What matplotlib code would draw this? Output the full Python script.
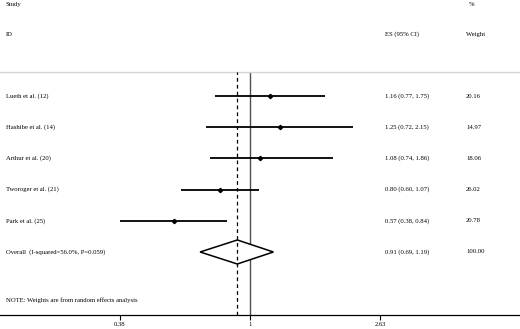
import numpy as np
import matplotlib as mpl
import matplotlib.pyplot as plt
import matplotlib.transforms as mtransforms

mpl.rcParams.update({
    "font.family": ["Liberation Serif", "DejaVu Serif"],
    "font.size": 4.8,
})

studies = ["Lueth et al. (12)", "Hashibe et al. (14)", "Arthur et al. (20)",
           "Tworoger et al. (21)", "Park et al. (25)"]
es = [1.16, 1.25, 1.08, 0.80, 0.57]
lo = [0.77, 0.72, 0.74, 0.60, 0.38]
hi = [1.75, 2.15, 1.86, 1.07, 0.84]
weights = [20.16, 14.97, 18.06, 26.02, 20.78]
overall_es, overall_lo, overall_hi = 0.91, 0.69, 1.19
overall_weight = 100.00
overall_label = "Overall  (I-squared=56.0%, P=0.059)"
xticks = [0.38, 1, 2.63]
xticklabels = ["0.38", "1", "2.63"]

W, H = 520, 329
fig = plt.figure(figsize=(W / 100, H / 100), dpi=100)
ax = fig.add_axes([0, 14 / H, 1, (315 - 72) / H])

# x: log scale, 1.0 sits at pixel 250, ~134.5 px per ln unit
ax.set_xscale("log")
ax.set_xlim(np.exp(-250 / 134.5), np.exp((W - 250) / 134.5))
ax.set_ylim(7.02, -0.77)

rows = np.arange(len(studies))
ax.hlines(rows, lo, hi, color="black", lw=1.3)
ax.plot(es, rows, "D", color="black", ms=2.2)

r_ov = len(studies)
h = 0.385
ax.fill([overall_lo, overall_es, overall_hi, overall_es, overall_lo],
        [r_ov, r_ov - h, r_ov, r_ov + h, r_ov],
        facecolor="white", edgecolor="black", lw=1.1, zorder=3)

ax.axvline(1, color="#505050", lw=1.0, zorder=1)
ax.axvline(overall_es, color="black", lw=0.9, ls=(0, (3, 2.5)), zorder=4)

for s in ["left", "right"]:
    ax.spines[s].set_visible(False)
ax.spines["top"].set_color("#d4d4d4")
ax.spines["top"].set_linewidth(1.0)
ax.spines["bottom"].set_linewidth(0.9)
ax.set_yticks([])
ax.set_xticks(xticks)
ax.set_xticklabels(xticklabels)
ax.xaxis.set_minor_locator(mpl.ticker.NullLocator())
ax.tick_params(axis="x", length=3.5, width=0.8, pad=1.5, labelsize=4.8)

tr = mtransforms.blended_transform_factory(ax.transAxes, ax.transData)
x_lab, x_es, x_w = 6 / W, 385 / W, 466 / W

for i, name in enumerate(studies):
    ax.text(x_lab, i, name, transform=tr, va="center", ha="left")
    ax.text(x_es, i, f"{es[i]:.2f} ({lo[i]:.2f}, {hi[i]:.2f})",
            transform=tr, va="center", ha="left")
    ax.text(x_w, i, f"{weights[i]:.2f}", transform=tr, va="center", ha="left")

ax.text(x_lab, r_ov, overall_label, transform=tr, va="center", ha="left")
ax.text(x_es, r_ov, f"{overall_es:.2f} ({overall_lo:.2f}, {overall_hi:.2f})",
        transform=tr, va="center", ha="left")
ax.text(x_w, r_ov, f"{overall_weight:.2f}", transform=tr, va="center", ha="left")

ax.text(x_lab, 6.54, "NOTE: Weights are from random effects analysis",
        transform=tr, va="center", ha="left")

# headers above the axes
ax.text(x_lab, -2.92, "Study", transform=tr, va="center", ha="left", clip_on=False)
ax.text(x_lab, -1.98, "ID", transform=tr, va="center", ha="left", clip_on=False)
ax.text(x_es, -1.98, "ES (95% CI)", transform=tr, va="center", ha="left", clip_on=False)
ax.text(469 / W, -2.92, "%", transform=tr, va="center", ha="left", clip_on=False)
ax.text(x_w, -1.98, "Weight", transform=tr, va="center", ha="left", clip_on=False)

fig.savefig("out.png", dpi=100)
